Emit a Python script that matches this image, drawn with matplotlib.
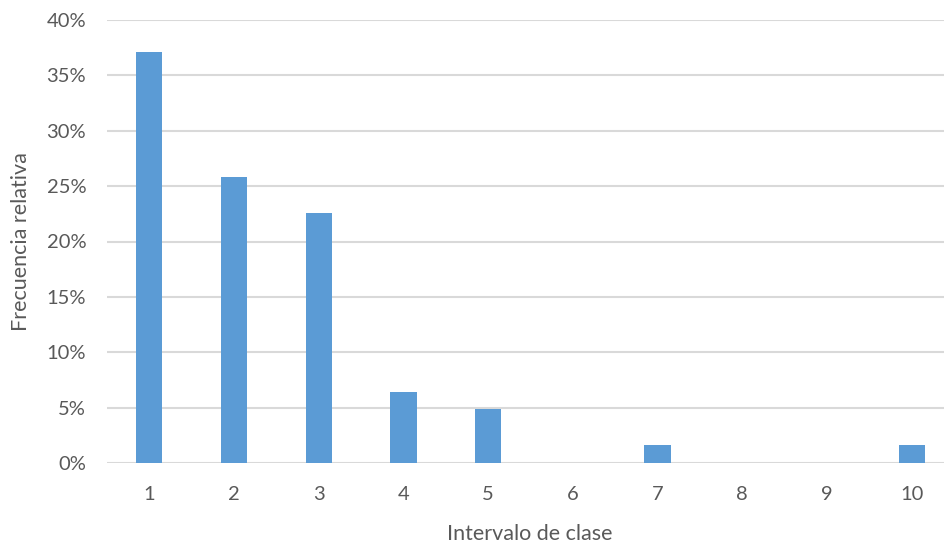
import numpy as np
import matplotlib.pyplot as plt
import matplotlib.transforms as mtransforms
from matplotlib.ticker import PercentFormatter

# class intervals and relative frequency (62 observations)
intervals = ['1', '2', '3', '4', '5', '6', '7', '8', '9', '10']
counts = [23, 16, 14, 4, 3, 0, 1, 0, 0, 1]
freq = np.array(counts) / sum(counts)

text_color = '#595959'
plt.rcParams['font.family'] = ['Lato', 'DejaVu Sans']

fig = plt.figure(figsize=(9.44, 5.44), dpi=100)
# plot area runs slightly past the right edge of the figure
ax = fig.add_axes([107 / 944, (544 - 463) / 544, 847 / 944, 443 / 544])

x = np.arange(len(intervals))
ax.bar(x, freq, width=0.31, color='#5b9bd5', zorder=3)

ax.set_xlim(-0.5, len(intervals) - 0.5)
ax.set_ylim(0, 0.40)
ax.set_yticks(np.arange(0, 0.41, 0.05))
ax.yaxis.set_major_formatter(PercentFormatter(1.0, decimals=0))
ax.set_xticks(x)
ax.set_xticklabels([])

ax.grid(axis='y', color='#d9d9d9', linewidth=1.5, zorder=0)
for s in ax.spines.values():
    s.set_visible(False)
ax.tick_params(length=0, labelsize=14.5, labelcolor=text_color)
ax.tick_params(axis='y', pad=15)

# category labels: data x, figure y
trans = mtransforms.blended_transform_factory(ax.transData, fig.transFigure)
for xi, lab in zip(x, intervals):
    ax.text(xi, 1 - 495 / 544, lab, transform=trans, fontsize=14.5,
            color=text_color, ha='center', va='center')

# axis titles placed in figure pixels
fig.text(530 / 944, 1 - 534 / 544, 'Intervalo de clase',
         fontsize=15.5, color=text_color, ha='center', va='center')
fig.text(21 / 944, 1 - 242 / 544, 'Frecuencia relativa', rotation=90,
         fontsize=15.5, color=text_color, ha='center', va='center')

fig.savefig('out.png', dpi=100)
